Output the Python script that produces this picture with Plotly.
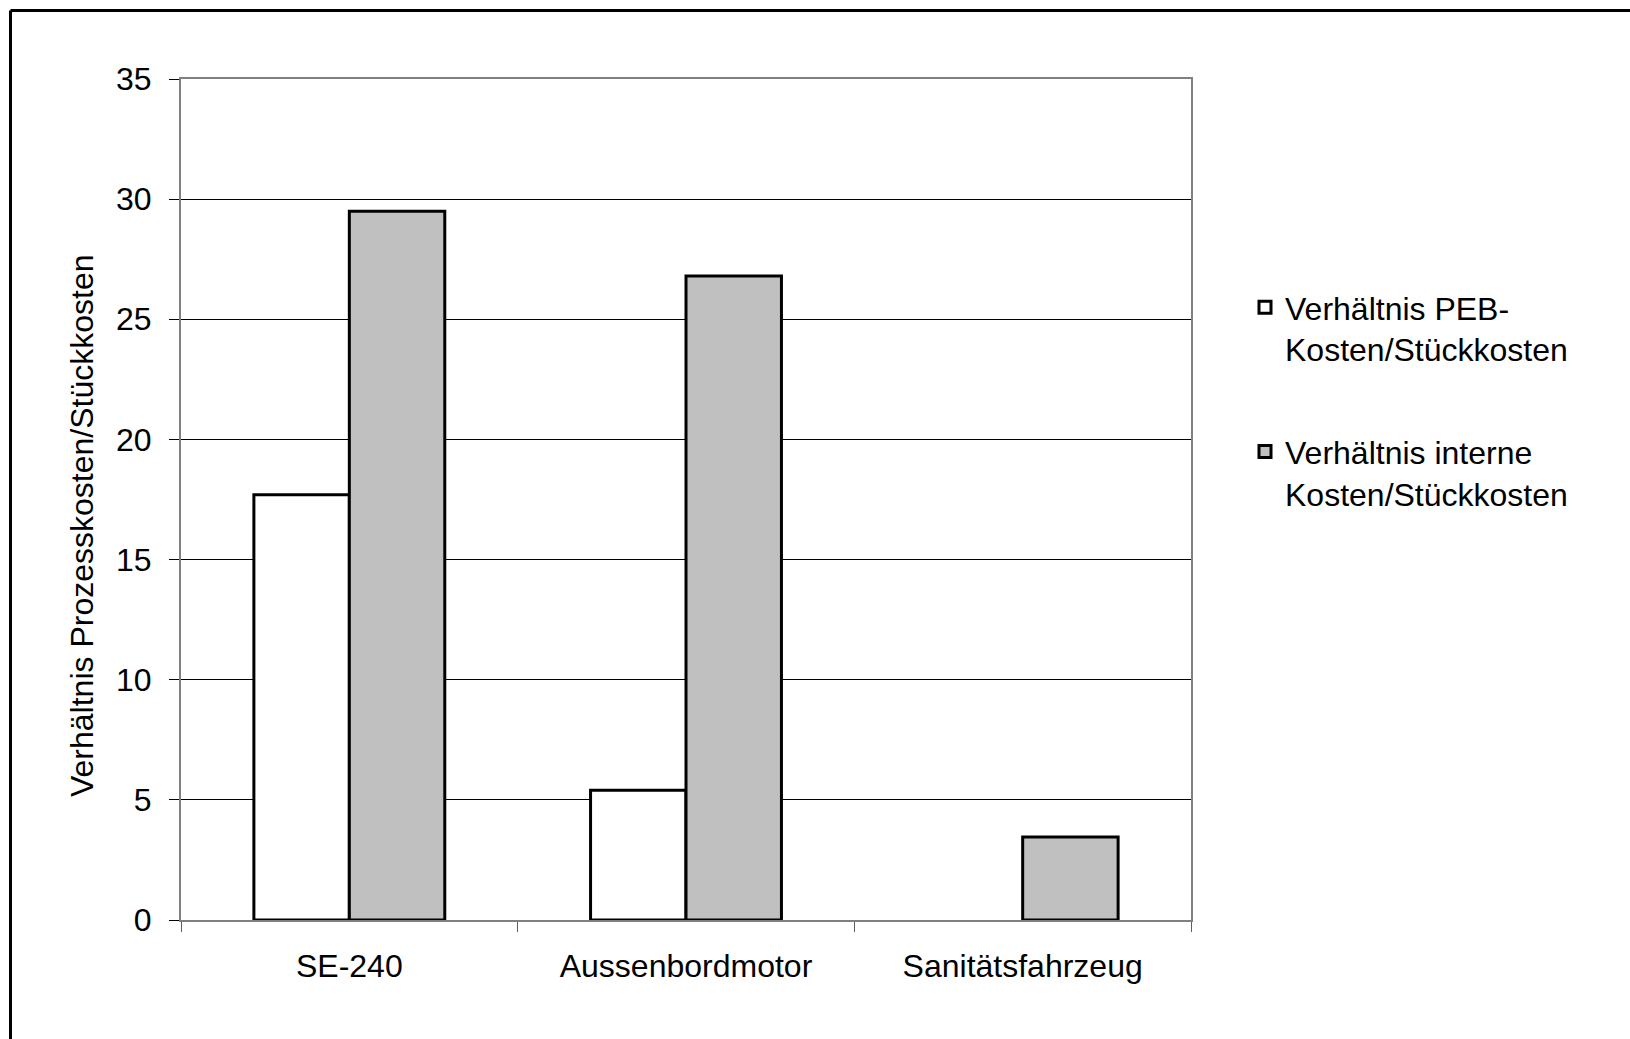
import plotly.graph_objects as go

# Produkte und Kostenverhältnisse (kein PEB-Wert für das Sanitätsfahrzeug)
categories = ["SE-240", "Aussenbordmotor", "Sanitätsfahrzeug"]
peb_ratio = [17.7, 5.4, None]
intern_ratio = [29.5, 26.8, 3.45]

series_names = [
    "Verhältnis PEB-<br>Kosten/Stückkosten",
    "Verhältnis interne<br>Kosten/Stückkosten",
]
y_ticks = [0, 5, 10, 15, 20, 25, 30, 35]
y_title = "Verhältnis Prozesskosten/Stückkosten"

FONT = "Liberation Sans, Arial, sans-serif"
FS = 32
W, H = 1630, 1039
L, R, T, B = 181, 439, 79, 119
PW, PH = W - L - R, H - T - B


def px_x(p):
    return (p - L) / PW


def px_y(p):
    return (H - B - p) / PH


fig = go.Figure()
fig.add_trace(go.Bar(
    x=categories, y=peb_ratio, name=series_names[0], legendgroup="a",
    marker=dict(color="#FFFFFF", line=dict(color="#000000", width=3)),
))
fig.add_trace(go.Bar(
    x=categories, y=intern_ratio, name=series_names[1], legendgroup="b",
    marker=dict(color="#C0C0C0", line=dict(color="#000000", width=3)),
))

fig.update_layout(
    width=W, height=H,
    margin=dict(l=L, r=R, t=T, b=B),
    paper_bgcolor="#FFFFFF", plot_bgcolor="#FFFFFF",
    font=dict(family=FONT, size=FS, color="#000000"),
    barmode="group", bargap=0.433, bargroupgap=0,
    legend=dict(
        x=px_x(1245), y=px_y(280), xanchor="left", yanchor="top",
        valign="top", tracegroupgap=58, bgcolor="rgba(0,0,0,0)",
        font=dict(family=FONT, size=FS, color="#000000"),
    ),
    showlegend=True,
)

fig.update_xaxes(
    type="category", tickson="boundaries",
    ticks="outside", ticklen=10, tickwidth=1, tickcolor="#606060",
    showline=True, linecolor="#808080", linewidth=2, mirror=True,
    showgrid=False, ticklabelstandoff=17,
    tickfont=dict(family=FONT, size=FS, color="#000000"),
)
fig.update_yaxes(
    range=[0, 35], tickvals=y_ticks, ticktext=[str(v) for v in y_ticks],
    ticks="outside", ticklen=10, tickwidth=1, tickcolor="#000000",
    showline=True, linecolor="#808080", linewidth=2, mirror=True,
    showgrid=True, gridcolor="#000000", gridwidth=1, zeroline=False,
    ticklabelstandoff=11,
    tickfont=dict(family=FONT, size=FS, color="#000000"),
)

# rotated axis title
fig.add_annotation(
    text=y_title, textangle=-90, showarrow=False,
    xref="paper", yref="paper", x=px_x(82), y=px_y(526),
    xanchor="center", yanchor="middle",
    font=dict(family=FONT, size=FS, color="#000000"),
)

# chart frame (left and top edges)
fx, fy = px_x(10.5), px_y(10.5)
fig.add_shape(type="line", xref="paper", yref="paper",
              x0=fx, x1=fx, y0=-0.3, y1=fy,
              line=dict(color="#000000", width=3))
fig.add_shape(type="line", xref="paper", yref="paper",
              x0=fx, x1=1.6, y0=fy, y1=fy,
              line=dict(color="#000000", width=3))

fig.write_html("out.html")
